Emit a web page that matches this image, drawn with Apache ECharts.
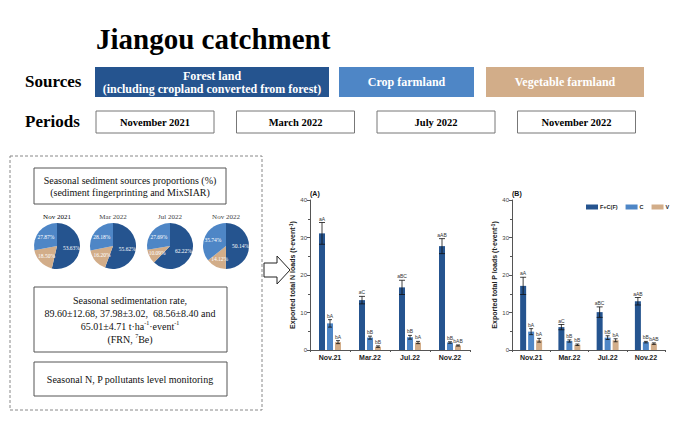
<!DOCTYPE html>
<html>
<head>
<meta charset="utf-8">
<script src="https://cdn.jsdelivr.net/npm/echarts@6/dist/echarts.min.js"></script>
<style>
html,body{margin:0;padding:0;background:#fff;}
#chart{width:700px;height:428px;}
</style>
</head>
<body>
<div id="chart"></div>
<script>
// ---- data ----
const categories = ['Nov.21', 'Mar.22', 'Jul.22', 'Nov.22'];
const seriesNames = ['F+C(F)', 'C', 'V'];

const nF = [31.1, 13.3, 16.7, 27.7];
const nFErr = [2.9, 1.0, 1.9, 2.0];
const nC = [7.1, 3.3, 3.4, 2.0];
const nCErr = [1.0, 0.4, 0.5, 0.2];
const nV = [2.1, 0.9, 2.0, 1.2];
const nVErr = [0.4, 0.2, 0.3, 0.15];
const nLabF = ['aA', 'aC', 'aBC', 'aAB'];
const nLabC = ['bA', 'bB', 'bB', 'bB'];
const nLabV = ['bA', 'bB', 'bA', 'bAB'];

const pF = [17.1, 6.1, 10.1, 13.0];
const pFErr = [2.3, 0.7, 1.4, 1.0];
const pC = [4.9, 2.4, 3.3, 2.1];
const pCErr = [0.8, 0.3, 0.5, 0.2];
const pV = [2.6, 1.4, 2.6, 1.7];
const pVErr = [0.5, 0.2, 0.4, 0.2];
const pLabF = ['aA', 'aC', 'aBC', 'aAB'];
const pLabC = ['bA', 'bB', 'bB', 'bB'];
const pLabV = ['bA', 'bB', 'bA', 'bAB'];

const yTicks = [0, 10, 20, 30, 40];

const pieTitles = ['Nov 2021', 'Mar 2022', 'Jul 2022', 'Nov 2022'];
const pieForest = [53.63, 55.62, 62.22, 50.14];
const pieVeg = [18.50, 16.20, 10.09, 14.12];
const pieCrop = [27.87, 28.18, 27.69, 35.74];

const sourceLabels = ['Forest land\n(including cropland converted from forest)', 'Crop farmland', 'Vegetable farmland'];
const periodLabels = ['November 2021', 'March 2022', 'July 2022', 'November 2022'];

// ---- style ----
const C_F = '#25548f', C_C = '#4e86c6', C_V = '#d2ad89';
const SANS = '"Liberation Sans", Arial, sans-serif';
const SERIF = '"Liberation Serif", "Times New Roman", serif';

const chart = echarts.init(document.getElementById('chart'), null, {renderer: 'svg'});

function errSeries(ai, vals, errs, labs, offset, capW) {
  return {
    type: 'custom', xAxisIndex: ai, yAxisIndex: ai, z: 10, silent: true,
    data: vals.map((v, i) => [i, v, errs[i]]),
    encode: {x: 0, y: 1},
    renderItem: (params, api) => {
      const i = api.value(0), v = api.value(1), e = api.value(2);
      const cx = api.coord([i, 0])[0] + offset;
      const yt = api.coord([i, v + e])[1];
      const yb = api.coord([i, v - e])[1];
      const st = {stroke: '#111', lineWidth: 0.8};
      return {type: 'group', children: [
        {type: 'line', shape: {x1: cx, y1: yt, x2: cx, y2: yb}, style: st},
        {type: 'line', shape: {x1: cx - capW / 2, y1: yt, x2: cx + capW / 2, y2: yt}, style: st},
        {type: 'line', shape: {x1: cx - capW / 2, y1: yb, x2: cx + capW / 2, y2: yb}, style: st},
        {type: 'text', style: {text: labs[i], x: cx, y: yt - 1.5, textAlign: 'center', textVerticalAlign: 'bottom',
          fontSize: 5, fill: '#333', fontFamily: SANS}}
      ]};
    }
  };
}

function barSeries(ai, name, vals, color) {
  return {type: 'bar', name: name, xAxisIndex: ai, yAxisIndex: ai, data: vals, barWidth: 6, barGap: '33%',
    itemStyle: {color: color}, silent: true};
}

function xAxis(gi) {
  return {type: 'category', gridIndex: gi, data: categories,
    axisLine: {lineStyle: {color: '#555', width: 1}},
    axisTick: {show: true, length: 2, lineStyle: {color: '#555'}},
    axisLabel: {fontSize: 7, fontWeight: 'bold', color: '#222', fontFamily: SANS, margin: 4}};
}
function yAxis(gi, name) {
  return {type: 'value', gridIndex: gi, min: yTicks[0], max: yTicks[yTicks.length - 1], interval: 10,
    name: name, nameLocation: 'middle', nameRotate: 90, nameGap: 14,
    nameTextStyle: {fontSize: 7, fontWeight: 'bold', color: '#222', fontFamily: SANS,
      rich: {sup: {fontSize: 4.5, fontWeight: 'bold', verticalAlign: 'top', color: '#222', fontFamily: SANS}}},
    axisLine: {show: true, lineStyle: {color: '#555', width: 1}},
    axisTick: {show: true, length: 3, lineStyle: {color: '#555'}},
    minorTick: {show: true, splitNumber: 2, length: 2, lineStyle: {color: '#555'}},
    splitLine: {show: false},
    axisLabel: {fontSize: 6, color: '#444', fontFamily: SANS, margin: 3}};
}

const pieCenters = [[57, 246], [113, 246], [170, 246], [226, 246]];
const pies = pieTitles.map((t, k) => ({
  type: 'pie', center: pieCenters[k], radius: 23, startAngle: 90, clockwise: true, silent: true,
  label: {show: true, position: 'inside', formatter: p => p.value.toFixed(2) + '%', fontSize: 5.5,
    color: '#fff', fontFamily: SERIF},
  labelLine: {show: false},
  itemStyle: {borderWidth: 0},
  data: [
    {name: 'Forest', value: pieForest[k], itemStyle: {color: C_F}},
    {name: 'Vegetable', value: pieVeg[k], itemStyle: {color: C_V}},
    {name: 'Crop', value: pieCrop[k], itemStyle: {color: C_C}}
  ]
}));

// header graphics
const g = [];
g.push({type: 'text', left: 96, top: 24, style: {text: 'Jiangou catchment', font: 'bold 29px ' + SERIF, fill: '#000'}});
g.push({type: 'text', left: 25, top: 73, style: {text: 'Sources', font: 'bold 17px ' + SERIF, fill: '#000'}});
g.push({type: 'text', left: 25, top: 113, style: {text: 'Periods', font: 'bold 17px ' + SERIF, fill: '#000'}});
const srcBoxes = [[95, 234, C_F], [339, 135, C_C], [486, 158, C_V]];
srcBoxes.forEach((b, k) => {
  g.push({type: 'rect', shape: {x: b[0], y: 67, width: b[1], height: 30}, style: {fill: b[2]}});
  g.push({type: 'text', x: b[0] + b[1] / 2, y: 82, style: {text: sourceLabels[k], textAlign: 'center',
    textVerticalAlign: 'middle', font: 'bold 12px ' + SERIF, fill: '#fff', lineHeight: 13}});
});
periodLabels.forEach((p, k) => {
  const x = 96 + k * 140.5;
  g.push({type: 'rect', shape: {x: x, y: 111, width: 118, height: 22}, style: {fill: '#fff', stroke: '#777', lineWidth: 1}});
  g.push({type: 'text', x: x + 59, y: 122, style: {text: p, textAlign: 'center', textVerticalAlign: 'middle',
    font: 'bold 10.5px ' + SERIF, fill: '#000'}});
});
// left panel
g.push({type: 'rect', shape: {x: 10, y: 156, width: 252, height: 254}, style: {fill: 'none', stroke: '#888', lineWidth: 1, lineDash: [3, 2]}});
g.push({type: 'rect', shape: {x: 34, y: 168, width: 192, height: 36}, style: {fill: '#fff', stroke: '#555', lineWidth: 1}});
g.push({type: 'text', x: 130, y: 186, style: {text: 'Seasonal sediment sources proportions (%)\n(sediment fingerprinting and MixSIAR)',
  textAlign: 'center', textVerticalAlign: 'middle', font: '10px ' + SERIF, fill: '#111', lineHeight: 12}});
pieTitles.forEach((t, k) => {
  g.push({type: 'text', x: pieCenters[k][0], y: 217, style: {text: t, textAlign: 'center', textVerticalAlign: 'middle',
    font: '7px ' + SERIF, fill: k === 0 ? '#000' : '#444'}});
});
g.push({type: 'rect', shape: {x: 34, y: 287, width: 193, height: 65}, style: {fill: '#fff', stroke: '#555', lineWidth: 1}});
g.push({type: 'text', x: 130, y: 320, style: {
  text: '{n|Seasonal sedimentation rate,}\n{n|89.60±12.68, 37.98±3.02,  68.56±8.40 and}\n{n|65.01±4.71 t·ha}{s|-1}{n|·event}{s|-1}\n{n|(FRN, }{s|7}{n|Be)}',
  textAlign: 'center', textVerticalAlign: 'middle', fill: '#111',
  rich: {n: {fontSize: 10, fontFamily: SERIF, fill: '#111', lineHeight: 13},
         s: {fontSize: 6, fontFamily: SERIF, fill: '#111', lineHeight: 13, verticalAlign: 'top'}}}});
g.push({type: 'rect', shape: {x: 34, y: 362, width: 193, height: 34}, style: {fill: '#fff', stroke: '#555', lineWidth: 1}});
g.push({type: 'text', x: 130, y: 379, style: {text: 'Seasonal N, P pollutants level monitoring', textAlign: 'center',
  textVerticalAlign: 'middle', font: '10px ' + SERIF, fill: '#111'}});
// arrow
g.push({type: 'polygon', shape: {points: [[264, 263], [277, 263], [277, 256], [290, 270], [277, 284], [277, 277], [264, 277]]},
  style: {fill: '#fff', stroke: '#222', lineWidth: 1}});
// panel tags
g.push({type: 'text', left: 310, top: 190, style: {text: '(A)', font: 'bold 7px ' + SANS, fill: '#111'}});
g.push({type: 'text', left: 512, top: 190, style: {text: '(B)', font: 'bold 7px ' + SANS, fill: '#111'}});

const option = {
  animation: false,
  backgroundColor: '#fff',
  textStyle: {fontFamily: SANS},
  grid: [
    {left: 310, top: 200, width: 160, height: 150},
    {left: 512, top: 200, width: 153, height: 150}
  ],
  legend: {data: seriesNames, left: 586, top: 204, itemWidth: 12, itemHeight: 5, itemGap: 8, padding: 0,
    icon: 'rect', textStyle: {fontSize: 5.5, fontWeight: 'bold', color: '#222', fontFamily: SANS, padding: [0, 0, 0, -3]},
    selectedMode: false},
  xAxis: [xAxis(0), xAxis(1)],
  yAxis: [yAxis(0, 'Exported total N loads (t·event{sup|-1})'), yAxis(1, 'Exported total P loads (t·event{sup|-1})')],
  series: [
    barSeries(0, seriesNames[0], nF, C_F), barSeries(0, seriesNames[1], nC, C_C), barSeries(0, seriesNames[2], nV, C_V),
    barSeries(1, seriesNames[0], pF, C_F), barSeries(1, seriesNames[1], pC, C_C), barSeries(1, seriesNames[2], pV, C_V),
    errSeries(0, nF, nFErr, nLabF, -8, 6), errSeries(0, nC, nCErr, nLabC, 0, 4), errSeries(0, nV, nVErr, nLabV, 8, 4),
    errSeries(1, pF, pFErr, pLabF, -8, 6), errSeries(1, pC, pCErr, pLabC, 0, 4), errSeries(1, pV, pVErr, pLabV, 8, 4)
  ].concat(pies),
  graphic: g
};
chart.setOption(option);
</script>
</body>
</html>
